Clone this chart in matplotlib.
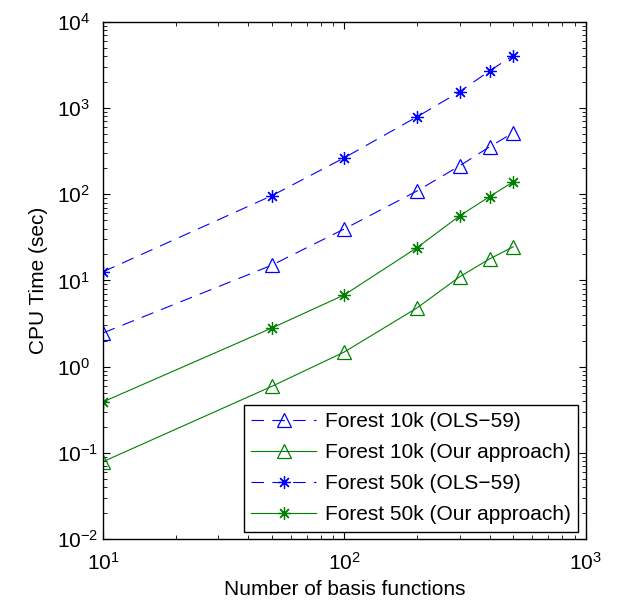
import matplotlib
matplotlib.use("Agg")
from matplotlib import pyplot as plt

plt.rcParams['font.family'] = ['Liberation Sans', 'DejaVu Sans']
plt.rcParams['mathtext.fontset'] = 'custom'
plt.rcParams['mathtext.rm'] = 'Liberation Sans'
plt.rcParams['mathtext.it'] = 'Liberation Sans:italic'
plt.rcParams['mathtext.bf'] = 'Liberation Sans:bold'
plt.rcParams['lines.scale_dashes'] = False

# number of basis functions
n_basis = [10, 50, 100, 200, 300, 400, 500]

# CPU time (sec)
forest10k_ols = [2.46, 15, 39.6, 109, 213, 355, 515]
forest10k_ours = [0.079, 0.59, 1.48, 4.8, 11, 17.8, 24.5]
forest50k_ols = [12.6, 96, 265, 790, 1540, 2700, 4050]
forest50k_ours = [0.39, 2.8, 6.8, 24, 56, 94, 139]

labels = ['Forest 10k (OLS\u221259)', 'Forest 10k (Our approach)',
          'Forest 50k (OLS\u221259)', 'Forest 50k (Our approach)']

blue = '#0000ff'
green = '#008000'
star = (8, 2, 0)

fig = plt.figure(figsize=(6.36, 6.05), dpi=100)
ax = fig.add_axes([0.162, 0.109, 0.759, 0.855])

ax.plot(n_basis, forest10k_ols, color=blue, lw=0.8, dashes=(9, 6),
        marker='^', ms=10, mfc='none', mew=0.9, label=labels[0])
ax.plot(n_basis, forest10k_ours, color=green, lw=0.8,
        marker='^', ms=10, mfc='none', mew=0.9, label=labels[1])
ax.plot(n_basis, forest50k_ols, color=blue, lw=0.8, dashes=(9, 6),
        marker=star, ms=9, mew=0.9, label=labels[2])
ax.plot(n_basis, forest50k_ours, color=green, lw=0.8,
        marker=star, ms=9, mew=0.9, label=labels[3])

ax.set_xscale('log')
ax.set_yscale('log')
ax.set_xlim(10, 1000)
ax.set_ylim(1e-2, 1e4)

ax.tick_params(which='both', direction='in', top=True, right=True, labelsize=15)
ax.tick_params(which='major', length=5)
ax.tick_params(which='minor', length=3)
ax.tick_params(axis='x', which='major', pad=9)
# MATLAB keeps the "10" of each y label in one column
ax.tick_params(axis='y', which='major', pad=33.5)
for lab in ax.get_yticklabels():
    lab.set_horizontalalignment('left')
for s in ax.spines.values():
    s.set_linewidth(1.0)

ax.set_xlabel('Number of basis functions', fontsize=15, labelpad=5)
ax.set_ylabel('CPU Time (sec)', fontsize=15, labelpad=6)

leg = ax.legend(loc='lower right', fontsize=15, numpoints=1, fancybox=False,
                edgecolor='black', framealpha=1, handlelength=3.1,
                handletextpad=0.45, labelspacing=0.58, borderaxespad=0.35,
                borderpad=0.35)
leg.get_frame().set_linewidth(1.0)

plt.savefig('out.png', dpi=100)
